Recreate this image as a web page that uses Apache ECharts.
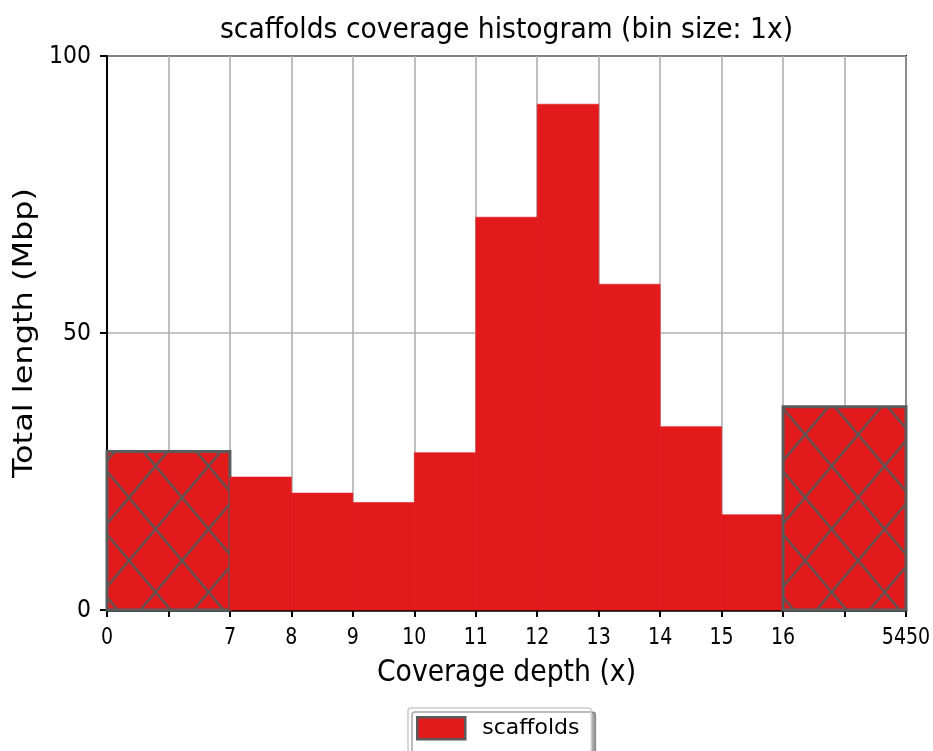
<!DOCTYPE html>
<html>
<head>
<meta charset="utf-8">
<script src="https://cdn.jsdelivr.net/npm/echarts@6/dist/echarts.min.js"></script>
<style>
  html, body { margin: 0; padding: 0; background: #fff; }
  #chart { width: 933px; height: 751px; }
</style>
</head>
<body>
<div id="chart"></div>
<script>
// Coverage bins on an evenly spaced axis; tickLabels gives the text at each integer position.
const tickLabels = ['0', '', '7', '8', '9', '10', '11', '12', '13', '14', '15', '16', '', '5450'];
const binStart = [0, 2, 3, 4, 5, 6, 7, 8, 9, 10, 11];
const binEnd   = [2, 3, 4, 5, 6, 7, 8, 9, 10, 11, 13];
const lengthMbp = [28.6, 24.0, 21.1, 19.4, 28.4, 70.9, 91.3, 58.8, 33.1, 17.2, 36.7];
// Outer bins (below 7x and above 16x) are drawn hatched.
const hatched = [true, false, false, false, false, false, false, false, false, false, true];
const yTicks = [0, 50, 100];

const FONT = 'DejaVu Sans';
const RED = '#e31a1c';
const EDGE = '#5a5a5a';

// Cross-hatch tile: diagonals corner to corner, crossing at the centre
function makeHatch(w, h) {
  const c = document.createElement('canvas');
  c.width = w; c.height = h;
  const ctx = c.getContext('2d');
  ctx.fillStyle = RED;
  ctx.fillRect(0, 0, w, h);
  ctx.strokeStyle = EDGE;
  ctx.lineWidth = 2.2;
  for (let dx = -w; dx <= w; dx += w) {
    for (let dy = -h; dy <= h; dy += h) {
      ctx.beginPath();
      ctx.moveTo(dx, dy); ctx.lineTo(dx + w, dy + h);
      ctx.moveTo(dx + w, dy); ctx.lineTo(dx, dy + h);
      ctx.stroke();
    }
  }
  return c;
}
const HW = 53, HH = 63;
const hatchTile = makeHatch(HW, HH);

const data = binStart.map((s, i) => [s, binEnd[i], lengthMbp[i], hatched[i] ? 1 : 0]);

const chart = echarts.init(document.getElementById('chart'), null, { renderer: 'canvas' });
chart.setOption({
  animation: false,
  legend: {
    data: [{ name: 'scaffolds', icon: 'rect' }],
    top: 708, left: 408,
    itemWidth: 48, itemHeight: 22,
    padding: [8, 12, 12, 8],
    backgroundColor: '#fff',
    borderColor: '#cccccc', borderWidth: 1.5, borderRadius: 3,
    shadowColor: 'rgba(0,0,0,0.35)', shadowOffsetX: 4, shadowOffsetY: 4, shadowBlur: 0,
    itemStyle: { color: RED, borderColor: EDGE, borderWidth: 2.5 },
    textStyle: { fontFamily: FONT, fontSize: 22, color: '#000', padding: [0, 0, 0, 12] }
  },
  grid: {
    left: 107, right: 27, top: 56, bottom: 141,
    show: true, borderColor: '#000', borderWidth: 2, backgroundColor: 'transparent'
  },
  xAxis: {
    type: 'value', min: 0, max: 13, interval: 1,
    axisLine: { show: true, lineStyle: { color: '#000', width: 2.5 } },
    axisTick: { show: true, length: 7, lineStyle: { color: '#000', width: 2 } },
    axisLabel: { show: false },
    splitLine: { show: true, lineStyle: { color: '#b0b0b0', width: 1.6 } }
  },
  yAxis: {
    type: 'value', min: 0, max: 100, interval: 50,
    axisLine: { show: true, lineStyle: { color: '#000', width: 2 } },
    axisTick: { show: true, length: 7, lineStyle: { color: '#000', width: 2 } },
    axisLabel: { show: false },
    splitLine: { show: true, lineStyle: { color: '#b0b0b0', width: 1.6 } }
  },
  series: [{
    name: 'scaffolds',
    type: 'custom',
    itemStyle: { color: RED, borderColor: EDGE, borderWidth: 2 },
    renderItem: function (params, api) {
      const p0 = api.coord([api.value(0), api.value(2)]);
      const p1 = api.coord([api.value(1), 0]);
      const x = p0[0], y = p0[1], w = p1[0] - p0[0], h = p1[1] - p0[1];
      if (api.value(3) !== 1) {
        return {
          type: 'rect',
          shape: { x: x, y: y, width: w, height: h },
          style: { fill: RED, stroke: RED, lineWidth: 0.6 }
        };
      }
      return {
        type: 'rect',
        shape: { x: x, y: y, width: w, height: h },
        style: {
          fill: {
            image: hatchTile, repeat: 'repeat',
            x: x - 4.5 - HW / 2, y: p1[1] - 18 - HH / 2
          },
          stroke: EDGE, lineWidth: 3
        }
      };
    },
    encode: { x: [0, 1], y: 2 },
    data: data,
    z: 2
  }]
});

// Title, tick labels and axis titles, placed from the axis scales
function textEl(text, x, y, size, align, opts) {
  return Object.assign({
    type: 'text', x: x, y: y, silent: true,
    style: {
      text: text, fontFamily: FONT, fontSize: size, fill: '#000',
      align: align, verticalAlign: 'middle',
      textAlign: align, textVerticalAlign: 'middle'
    }
  }, opts || {});
}

const axisBottom = chart.convertToPixel({ yAxisIndex: 0 }, 0);
const plotLeft = chart.convertToPixel({ xAxisIndex: 0 }, 0);
const plotRight = chart.convertToPixel({ xAxisIndex: 0 }, tickLabels.length - 1);
const plotTop = chart.convertToPixel({ yAxisIndex: 0 }, 100);
const plotMidX = (plotLeft + plotRight) / 2;

const graphics = [];
graphics.push(textEl('scaffolds coverage histogram (bin size: 1x)', plotMidX, 31, 26.6, 'center', { scaleY: 1.05 }));
tickLabels.forEach((t, i) => {
  if (!t) return;
  const px = chart.convertToPixel({ xAxisIndex: 0 }, i);
  graphics.push(textEl(t, px, axisBottom + 28, 19, 'center', { scaleY: 1.22 }));
});
yTicks.forEach(v => {
  const py = chart.convertToPixel({ yAxisIndex: 0 }, v);
  graphics.push(textEl(String(v), plotLeft - 16, py + 0.5, 22, 'right', { scaleY: 1.13 }));
});
graphics.push(textEl('Coverage depth (x)', plotMidX, axisBottom + 63, 26.7, 'center', { scaleY: 1.1 }));
graphics.push(textEl('Total length (Mbp)', 25, (plotTop + axisBottom) / 2, 26, 'center', {
  rotation: Math.PI / 2, scaleX: 1.23
}));

chart.setOption({ graphic: { elements: graphics } });
</script>
</body>
</html>
